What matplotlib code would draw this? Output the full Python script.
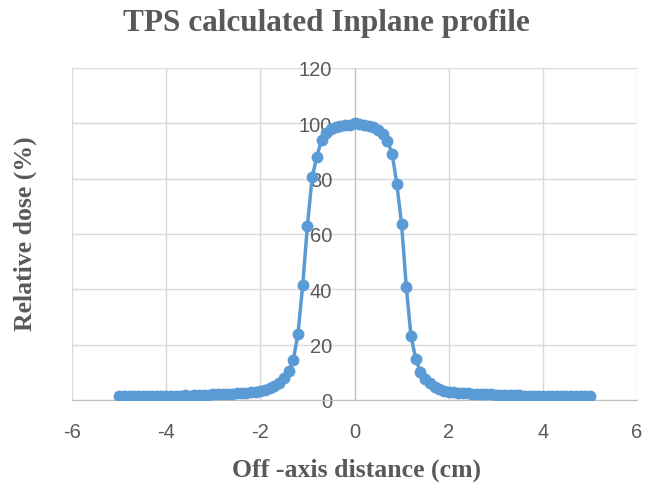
import matplotlib
matplotlib.use("Agg")
import matplotlib.pyplot as plt
import numpy as np

# Off-axis distance (cm) and relative dose (%) read from the profile
distance = np.round(np.arange(-5.0, 5.01, 0.1), 2)
dose = [
    1.3, 1.3, 1.3, 1.3, 1.4, 1.4, 1.4, 1.4, 1.5, 1.5,
    1.5, 1.5, 1.6, 1.6, 1.9, 1.6, 1.7, 1.7, 1.8, 1.9,
    2.0, 2.0, 2.1, 2.2, 2.3, 2.4, 2.5, 2.6, 2.8, 3.0,
    3.2, 3.6, 4.2, 5.0, 6.3, 8.0, 10.5, 14.5, 24.0, 41.5,
    63.0, 80.5, 88.0, 94.0, 96.5, 97.8, 98.5, 99.2, 99.5, 99.3,
    100.3,
    99.8, 99.3, 99.0, 98.6, 97.5, 96.0, 93.5, 89.0, 78.0, 63.5,
    41.0, 23.0, 15.0, 10.0, 7.5, 6.0, 4.8, 4.0, 3.4, 3.0,
    2.8, 2.6, 2.5, 2.4, 2.3, 2.2, 2.1, 2.0, 2.0, 1.9,
    1.9, 1.8, 1.8, 1.7, 1.7, 1.6, 1.6, 1.5, 1.5, 1.5,
    1.5, 1.4, 1.4, 1.4, 1.4, 1.3, 1.3, 1.3, 1.3, 1.3,
]
x_ticks = [-6, -4, -2, 0, 2, 4, 6]
y_ticks = [0, 20, 40, 60, 80, 100, 120]

LINE_COLOR = "#5B9BD5"
GRID_COLOR = "#D9D9D9"
TICK_COLOR = "#595959"
SERIF = "Liberation Serif"

fig = plt.figure(figsize=(6.45, 4.85), dpi=100)
ax = fig.add_axes([72 / 645, 1 - 401 / 485, (637 - 72) / 645, (401 - 69) / 485])

ax.plot(distance, dose, color=LINE_COLOR, lw=2.5, marker="o", ms=7.5,
        markeredgecolor=LINE_COLOR, zorder=3)

ax.set_xlim(-6, 6)
ax.set_ylim(0, 120)
ax.set_xticks(x_ticks)
ax.set_xticklabels([str(t) for t in x_ticks])  # plain hyphen, like Excel
ax.set_yticks(y_ticks)
ax.set_yticklabels([str(t) for t in y_ticks])
ax.grid(True, color=GRID_COLOR, lw=1)
ax.set_axisbelow(True)

for side in ["top", "right"]:
    ax.spines[side].set_visible(False)
ax.spines["left"].set_position(("data", 0))
ax.spines["left"].set_color("#BFBFBF")
ax.spines["bottom"].set_color("#BFBFBF")
ax.spines["left"].set_zorder(2)

ax.tick_params(length=0, labelsize=14.5, labelcolor=TICK_COLOR)
ax.tick_params(axis="x", pad=16)
ax.tick_params(axis="y", pad=16)
for lbl in ax.get_xticklabels() + ax.get_yticklabels():
    lbl.set_fontfamily("Liberation Sans")

fig.text(326 / 645, 1 - 24 / 485, "TPS calculated Inplane profile", ha="center", va="center",
         fontsize=22.5, fontweight="bold", color="#595959", family=SERIF)
fig.text(356 / 645, 1 - 470 / 485, "Off -axis distance (cm)", ha="center", va="center",
         fontsize=18.5, fontweight="bold", color="#595959", family=SERIF)
fig.text(25 / 645, 1 - 234 / 485, "Relative dose (%)", ha="center", va="center",
         rotation=90, fontsize=18.5, fontweight="bold", color="#595959", family=SERIF)

fig.savefig("out.png", dpi=100)
